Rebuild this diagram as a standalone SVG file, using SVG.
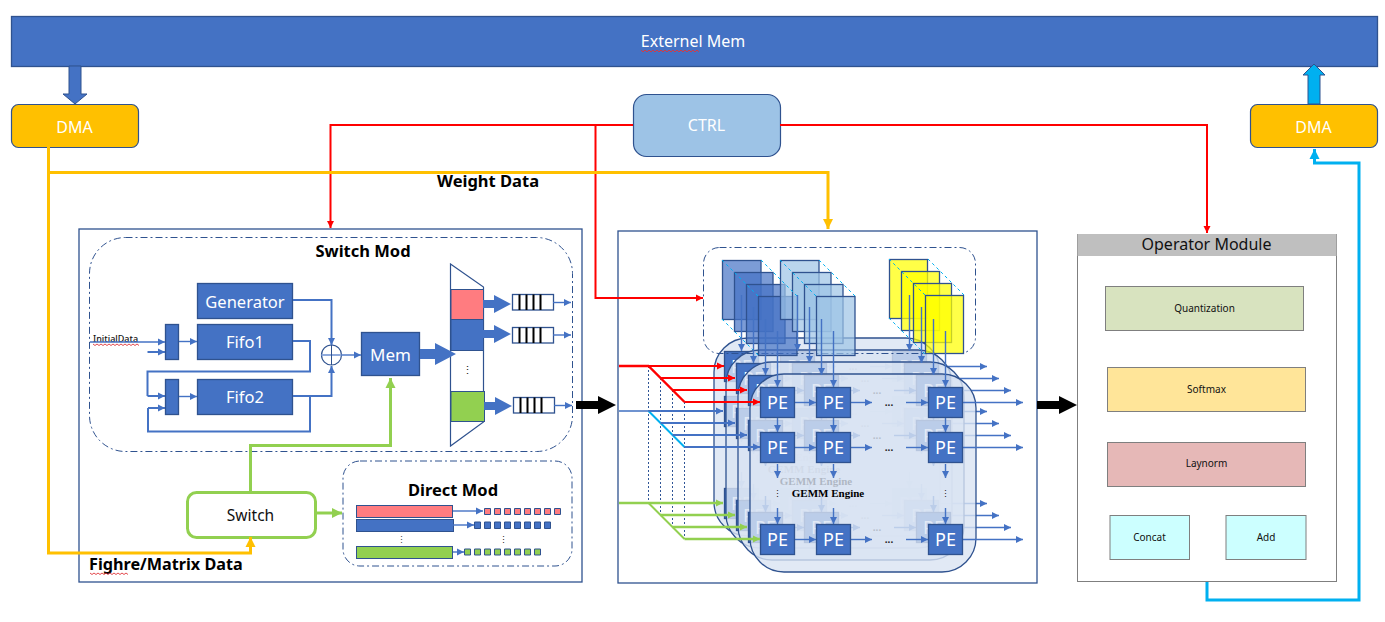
<svg xmlns="http://www.w3.org/2000/svg" xmlns:xlink="http://www.w3.org/1999/xlink" width="1385" height="622" viewBox="0 0 1385 622">
<style>
text{font-family:"Noto Sans","Open Sans","Liberation Sans",sans-serif}
.b{fill:#4472C4;stroke:#2F528F;stroke-width:1.3}
.w{fill:#fff;text-anchor:middle}
.t{fill:#111;text-anchor:middle}
.bold{font-weight:700;fill:#000}
.panel{fill:#fff;stroke:#2F528F;stroke-width:1.3}
.dash{fill:none;stroke:#2F528F;stroke-width:1;stroke-dasharray:7 3 2 3}
.dma{fill:#FFC000;stroke:#2F528F;stroke-width:1.2}
.thin{fill:none;stroke:#4472C4;stroke-width:1.4;marker-end:url(#ab)}
.loop{fill:none;stroke:#4472C4;stroke-width:2}
.loopa{fill:none;stroke:#4472C4;stroke-width:2;marker-end:url(#ab)}
.red{fill:none;stroke:#FF0000;stroke-width:2;marker-end:url(#ar)}
.redl{fill:none;stroke:#FF0000;stroke-width:2.4}
.bl2{fill:none;stroke:#4472C4;stroke-width:2;marker-end:url(#ab)}
.gr{fill:none;stroke:#92D050;stroke-width:2.4;marker-end:url(#ag)}
.yl{fill:none;stroke:#FFC000;stroke-width:3}
.vd{fill:none;stroke:#2F5597;stroke-width:1;stroke-dasharray:2 2}
.st{stroke:#2F528F;stroke-width:1.3}
.diag{fill:none;stroke:#00B0F0;stroke-width:1;stroke-dasharray:3 3}
.wave{fill:none;stroke:#E0363A;stroke-width:.9}
.op{stroke:#7F7F7F;stroke-width:1}
.pe{font-size:18px}
.dots{font-size:10px;fill:#222;text-anchor:middle;font-weight:700}
.gemm{font-family:"Liberation Serif",serif;font-size:11px;font-weight:700;fill:#000;text-anchor:middle}
.q{fill:#fff;stroke:#2F528F;stroke-width:1.3}
</style>
<defs>
<marker id="ab" markerUnits="userSpaceOnUse" markerWidth="8" markerHeight="8" refX="7" refY="4" orient="auto"><path d="M0 .5L7 4L0 7.5Z" fill="#4472C4"/></marker>
<marker id="ar" markerUnits="userSpaceOnUse" markerWidth="8" markerHeight="8" refX="7" refY="4" orient="auto"><path d="M0 .5L7 4L0 7.5Z" fill="#FF0000"/></marker>
<marker id="ag" markerUnits="userSpaceOnUse" markerWidth="8" markerHeight="8" refX="7" refY="4" orient="auto"><path d="M0 .5L7 4L0 7.5Z" fill="#92D050"/></marker>
<marker id="ag2" markerUnits="userSpaceOnUse" markerWidth="12" markerHeight="12" refX="10" refY="6" orient="auto"><path d="M0 1L10 6L0 11Z" fill="#92D050"/></marker>
<marker id="ay" markerUnits="userSpaceOnUse" markerWidth="12" markerHeight="12" refX="10" refY="6" orient="auto"><path d="M0 1L10 6L0 11Z" fill="#FFC000"/></marker>
<marker id="ac" markerUnits="userSpaceOnUse" markerWidth="12" markerHeight="12" refX="10" refY="6" orient="auto"><path d="M0 1L10 6L0 11Z" fill="#00B0F0"/></marker>
<path id="fat" d="M0 -5H15V-11L36 0L15 11V5H0Z" fill="#4472C4"/>
<path id="fat2" d="M0 -4H11V-9L28 0L11 9V4H0Z" fill="#4472C4"/>
<path id="fatk" d="M0 -4H22V-9L40 0L22 9V4H0Z" fill="#000"/>
<g id="queue"><rect class="q" width="41" height="15.500"/><path d="M7 0V15.500M14 0V15.500M21 0V15.500M28 0V15.500" stroke="#000" stroke-width="2"/></g>
<g id="gridlines">
<rect x="750" y="374" width="226" height="198" rx="34" fill="#DAE3F3" fill-opacity=".8" stroke="#2F528F" stroke-width="1.3"/>
</g>
<g id="gridarrows">
<path class="thin" d="M795 402.500H816"/><path class="thin" d="M851 402.500H872"/><path class="thin" d="M906 402.500H928"/><path class="thin" d="M963 402.500H1023"/>
<path class="thin" d="M795 447.500H816"/><path class="thin" d="M851 447.500H872"/><path class="thin" d="M906 447.500H928"/><path class="thin" d="M963 447.500H1023"/>
<path class="thin" d="M795 539.500H816"/><path class="thin" d="M851 539.500H872"/><path class="thin" d="M906 539.500H928"/><path class="thin" d="M963 539.500H1023"/>
<path class="thin" d="M777.500 418V432"/><path class="thin" d="M833.500 418V432"/><path class="thin" d="M945.500 418V432"/>
<path class="thin" d="M777.500 464V478"/><path class="thin" d="M833.500 464V478"/><path class="thin" d="M945.500 464V478"/>
<path class="thin" d="M777.500 508V524"/><path class="thin" d="M833.500 508V524"/><path class="thin" d="M945.500 508V524"/>
</g>
</defs>

<rect width="1385" height="622" fill="#fff"/>

<g id="left-panel"><rect class="panel" x="79" y="229" width="503" height="353"/></g>
<g id="center-panel"><rect class="panel" x="618" y="231" width="419" height="352"/></g>

<g id="external-mem"><rect class="b" x="11.500" y="16.500" width="1366" height="50"/><text class="w" x="693" y="47" font-size="16">Externel Mem</text><path class="wave" d="M641 50l2 2l2-2l2 2l2-2l2 2l2-2l2 2l2-2l2 2l2-2l2 2l2-2l2 2l2-2l2 2l2-2l2 2l2-2l2 2l2-2l2 2l2-2l2 2l2-2l2 2l2-2l2 2l2-2l2 2"/></g>
<g id="dma-left"><rect class="dma" x="11.500" y="104.500" width="127" height="43" rx="7"/><text class="w" x="74.500" y="133" font-size="16">DMA</text></g>
<g id="dma-right"><rect class="dma" x="1250.500" y="104.500" width="127" height="43" rx="7"/><text class="w" x="1313.500" y="133" font-size="16">DMA</text></g>
<g id="ctrl"><rect x="633.500" y="94.500" width="147" height="62" rx="13" fill="#9DC3E6" stroke="#2F528F" stroke-width="1.2"/><text class="w" x="706.500" y="131" font-size="16">CTRL</text></g>

<g id="switch-mod">
<rect class="dash" x="89.500" y="237.500" width="483" height="214" rx="36"/>
<text class="bold" x="363" y="257" font-size="16.500" text-anchor="middle">Switch Mod</text>
</g>
<g id="generator"><rect class="b" x="197.500" y="283.500" width="95" height="35"/><text class="w" x="245" y="307.500" font-size="16.500">Generator</text></g>
<g id="fifo1"><rect class="b" x="197.500" y="324.500" width="95" height="35"/><text class="w" x="245" y="348" font-size="16.500">Fifo1</text></g>
<g id="fifo2"><rect class="b" x="197.500" y="379.500" width="95" height="35"/><text class="w" x="245" y="403" font-size="16.500">Fifo2</text></g>
<g id="mux1"><rect class="b" x="165.500" y="324.500" width="13" height="35"/></g>
<g id="mux2"><rect class="b" x="165.500" y="379.500" width="13" height="35"/></g>
<g id="initial-data"><text x="93" y="342" font-size="9" font-weight="500" fill="#111">InitialData</text><path class="wave" d="M93 344l2 1.500l2-1.500l2 1.500l2-1.500l2 1.500l2-1.500l2 1.500l2-1.500l2 1.500l2-1.500l2 1.500l2-1.500l2 1.500l2-1.500l2 1.500l2-1.500l2 1.500l2-1.500l2 1.500l2-1.500l2 1.500l2-1.500l2 1.500"/></g>
<g id="adder"><circle cx="331.500" cy="355" r="10" fill="#fff" stroke="#2F528F" stroke-width="1.2"/><path d="M321.500 355H341.500" stroke="#8FAADC" stroke-width="2"/><path d="M331.500 345V365" stroke="#2F528F"/></g>
<g id="mem"><rect class="b" x="361.500" y="332.500" width="58" height="43"/><text class="w" x="390.500" y="361" font-size="17">Mem</text></g>
<g id="selector">
<path d="M450.500 264L483.500 287V422L450.500 446Z" fill="#fff" stroke="#2F528F" stroke-width="1.2"/>
<rect x="451" y="289.500" width="32.500" height="30" fill="#FF7C80" stroke="#2F528F"/>
<rect x="451" y="319.500" width="32.500" height="31" fill="#4472C4" stroke="#2F528F"/>
<rect x="451" y="391.500" width="33.500" height="30" fill="#92D050" stroke="#2F528F"/>
<text x="467.500" y="374" font-size="11" fill="#222" text-anchor="middle">⋮</text>
</g>
<g id="queue1"><use href="#queue" x="512.500" y="294.500"/></g>
<g id="queue2"><use href="#queue" x="512.500" y="327.500"/></g>
<g id="queue3"><use href="#queue" x="513.500" y="397.500"/></g>

<g id="direct-mod">
<rect class="dash" x="343" y="461" width="229" height="105" rx="17"/>
<text class="bold" x="453" y="496" font-size="16.500" text-anchor="middle">Direct Mod</text>
<rect x="356.500" y="505.500" width="96" height="12" fill="#FF7C80" stroke="#2F528F"/>
<rect x="356.500" y="519.500" width="97" height="12" fill="#4472C4" stroke="#2F528F"/>
<rect x="356.500" y="546.500" width="96" height="12" fill="#92D050" stroke="#2F528F"/>
<path d="M484.500 508.500h6v6h-6zM494.500 508.500h6v6h-6zM504.500 508.500h6v6h-6zM514.500 508.500h6v6h-6zM524.500 508.500h6v6h-6zM534.500 508.500h6v6h-6zM544.500 508.500h6v6h-6zM554.500 508.500h6v6h-6z" fill="#FF7C80" stroke="#2F528F"/>
<path d="M474.500 522h6v6.500h-6zM484.500 522h6v6.500h-6zM494.500 522h6v6.500h-6zM504.500 522h6v6.500h-6zM514.500 522h6v6.500h-6zM524.500 522h6v6.500h-6zM534.500 522h6v6.500h-6zM544.500 522h6v6.500h-6z" fill="#4472C4" stroke="#2F528F"/>
<path d="M464.500 549h6v6h-6zM474.500 549h6v6h-6zM484.500 549h6v6h-6zM494.500 549h6v6h-6zM504.500 549h6v6h-6zM514.500 549h6v6h-6zM524.500 549h6v6h-6zM534.500 549h6v6h-6z" fill="#92D050" stroke="#2F528F"/>
<text x="401" y="543" font-size="9" fill="#444" text-anchor="middle">⋮</text>
<text x="503" y="543" font-size="9" fill="#222" text-anchor="middle">⋮</text>
</g>
<g id="switch"><rect x="187.500" y="492.500" width="128" height="45" rx="9" fill="#fff" stroke="#92D050" stroke-width="3"/><text class="t" x="250.500" y="521" font-size="15.500">Switch</text></g>

<g id="label-weight"><text class="bold" x="437" y="187" font-size="16.500">Weight Data</text></g>
<g id="label-matrix"><text class="bold" x="89" y="570" font-size="16.200">Fighre/Matrix Data</text><path class="wave" d="M90 573l2 1.500l2-1.500l2 1.500l2-1.500l2 1.500l2-1.500l2 1.500l2-1.500l2 1.500l2-1.500l2 1.500l2-1.500l2 1.500l2-1.500l2 1.500l2-1.500l2 1.500l2-1.500l2 1.500"/></g>

<g id="engine-3" transform="translate(-36 -36)">
<use href="#gridlines"/><use href="#gridarrows"/>
<text class="gemm" x="828" y="497">GEMM Engine</text>
<text class="dots" x="889" y="406">...</text><text class="dots" x="889" y="451">...</text><text class="dots" x="889" y="543">...</text>
<g id="pe-3-1"><rect class="b" x="760.500" y="387.500" width="34" height="30"/><text class="w pe" x="777.500" y="409">PE</text></g>
<g id="pe-3-2"><rect class="b" x="816.500" y="387.500" width="34" height="30"/><text class="w pe" x="833.500" y="409">PE</text></g>
<g id="pe-3-3"><rect class="b" x="928.500" y="387.500" width="34" height="30"/><text class="w pe" x="945.500" y="409">PE</text></g>
<g id="pe-3-4"><rect class="b" x="760.500" y="432.500" width="34" height="30"/><text class="w pe" x="777.500" y="454">PE</text></g>
<g id="pe-3-5"><rect class="b" x="816.500" y="432.500" width="34" height="30"/><text class="w pe" x="833.500" y="454">PE</text></g>
<g id="pe-3-6"><rect class="b" x="928.500" y="432.500" width="34" height="30"/><text class="w pe" x="945.500" y="454">PE</text></g>
<g id="pe-3-7"><rect class="b" x="760.500" y="524.500" width="34" height="30"/><text class="w pe" x="777.500" y="546">PE</text></g>
<g id="pe-3-8"><rect class="b" x="816.500" y="524.500" width="34" height="30"/><text class="w pe" x="833.500" y="546">PE</text></g>
<g id="pe-3-9"><rect class="b" x="928.500" y="524.500" width="34" height="30"/><text class="w pe" x="945.500" y="546">PE</text></g>
</g>
<g id="engine-2" transform="translate(-24 -24)">
<use href="#gridlines"/><use href="#gridarrows"/>
<text class="gemm" x="828" y="497">GEMM Engine</text>
<text class="dots" x="889" y="406">...</text><text class="dots" x="889" y="451">...</text><text class="dots" x="889" y="543">...</text>
<g id="pe-2-1"><rect class="b" x="760.500" y="387.500" width="34" height="30"/><text class="w pe" x="777.500" y="409">PE</text></g>
<g id="pe-2-2"><rect class="b" x="816.500" y="387.500" width="34" height="30"/><text class="w pe" x="833.500" y="409">PE</text></g>
<g id="pe-2-3"><rect class="b" x="928.500" y="387.500" width="34" height="30"/><text class="w pe" x="945.500" y="409">PE</text></g>
<g id="pe-2-4"><rect class="b" x="760.500" y="432.500" width="34" height="30"/><text class="w pe" x="777.500" y="454">PE</text></g>
<g id="pe-2-5"><rect class="b" x="816.500" y="432.500" width="34" height="30"/><text class="w pe" x="833.500" y="454">PE</text></g>
<g id="pe-2-6"><rect class="b" x="928.500" y="432.500" width="34" height="30"/><text class="w pe" x="945.500" y="454">PE</text></g>
<g id="pe-2-7"><rect class="b" x="760.500" y="524.500" width="34" height="30"/><text class="w pe" x="777.500" y="546">PE</text></g>
<g id="pe-2-8"><rect class="b" x="816.500" y="524.500" width="34" height="30"/><text class="w pe" x="833.500" y="546">PE</text></g>
<g id="pe-2-9"><rect class="b" x="928.500" y="524.500" width="34" height="30"/><text class="w pe" x="945.500" y="546">PE</text></g>
</g>
<g id="engine-1" transform="translate(-12 -12)">
<use href="#gridlines"/><use href="#gridarrows"/>
<text class="gemm" x="828" y="497">GEMM Engine</text>
<text class="dots" x="889" y="406">...</text><text class="dots" x="889" y="451">...</text><text class="dots" x="889" y="543">...</text>
<g id="pe-1-1"><rect class="b" x="760.500" y="387.500" width="34" height="30"/><text class="w pe" x="777.500" y="409">PE</text></g>
<g id="pe-1-2"><rect class="b" x="816.500" y="387.500" width="34" height="30"/><text class="w pe" x="833.500" y="409">PE</text></g>
<g id="pe-1-3"><rect class="b" x="928.500" y="387.500" width="34" height="30"/><text class="w pe" x="945.500" y="409">PE</text></g>
<g id="pe-1-4"><rect class="b" x="760.500" y="432.500" width="34" height="30"/><text class="w pe" x="777.500" y="454">PE</text></g>
<g id="pe-1-5"><rect class="b" x="816.500" y="432.500" width="34" height="30"/><text class="w pe" x="833.500" y="454">PE</text></g>
<g id="pe-1-6"><rect class="b" x="928.500" y="432.500" width="34" height="30"/><text class="w pe" x="945.500" y="454">PE</text></g>
<g id="pe-1-7"><rect class="b" x="760.500" y="524.500" width="34" height="30"/><text class="w pe" x="777.500" y="546">PE</text></g>
<g id="pe-1-8"><rect class="b" x="816.500" y="524.500" width="34" height="30"/><text class="w pe" x="833.500" y="546">PE</text></g>
<g id="pe-1-9"><rect class="b" x="928.500" y="524.500" width="34" height="30"/><text class="w pe" x="945.500" y="546">PE</text></g>
</g>
<g id="engine-0">
<use href="#gridlines"/><use href="#gridarrows"/>
<text class="gemm" x="828" y="497">GEMM Engine</text>
<text class="dots" x="889" y="406">...</text><text class="dots" x="889" y="451">...</text><text class="dots" x="889" y="543">...</text>
<text x="777.500" y="497" font-size="9" fill="#222" text-anchor="middle">⋮</text><text x="945.500" y="497" font-size="9" fill="#222" text-anchor="middle">⋮</text>
<g id="pe-0-1"><rect class="b" x="760.500" y="387.500" width="34" height="30"/><text class="w pe" x="777.500" y="409">PE</text></g>
<g id="pe-0-2"><rect class="b" x="816.500" y="387.500" width="34" height="30"/><text class="w pe" x="833.500" y="409">PE</text></g>
<g id="pe-0-3"><rect class="b" x="928.500" y="387.500" width="34" height="30"/><text class="w pe" x="945.500" y="409">PE</text></g>
<g id="pe-0-4"><rect class="b" x="760.500" y="432.500" width="34" height="30"/><text class="w pe" x="777.500" y="454">PE</text></g>
<g id="pe-0-5"><rect class="b" x="816.500" y="432.500" width="34" height="30"/><text class="w pe" x="833.500" y="454">PE</text></g>
<g id="pe-0-6"><rect class="b" x="928.500" y="432.500" width="34" height="30"/><text class="w pe" x="945.500" y="454">PE</text></g>
<g id="pe-0-7"><rect class="b" x="760.500" y="524.500" width="34" height="30"/><text class="w pe" x="777.500" y="546">PE</text></g>
<g id="pe-0-8"><rect class="b" x="816.500" y="524.500" width="34" height="30"/><text class="w pe" x="833.500" y="546">PE</text></g>
<g id="pe-0-9"><rect class="b" x="928.500" y="524.500" width="34" height="30"/><text class="w pe" x="945.500" y="546">PE</text></g>
</g>

<g id="buffers">
<rect class="dash" x="703.500" y="247.500" width="272" height="106" rx="16"/>
<g fill="#4472C4" fill-opacity=".7">
<rect class="st" x="722.500" y="260.500" width="38.500" height="59"/><rect class="st" x="734.500" y="272.500" width="38.500" height="59"/><rect class="st" x="746.500" y="284.500" width="38.500" height="59"/><rect class="st" x="758.500" y="296.500" width="38.500" height="59"/>
</g>
<g fill="#9DC3E6" fill-opacity=".7">
<rect class="st" x="780.500" y="260.500" width="38.500" height="59"/><rect class="st" x="792.500" y="272.500" width="38.500" height="59"/><rect class="st" x="804.500" y="284.500" width="38.500" height="59"/><rect class="st" x="816.500" y="296.500" width="38.500" height="59"/>
</g>
<g fill="#FFFF00" fill-opacity=".72">
<rect class="st" x="889.500" y="259.500" width="38" height="59"/><rect class="st" x="901.500" y="271.500" width="38" height="59"/><rect class="st" x="913.500" y="283.500" width="38" height="59"/><rect class="st" x="925.500" y="295.500" width="38" height="58"/>
</g>
<path class="diag" d="M722 260L758 296M761 260L797 296M722 319L758 355M780 260L816 296M819 260L855 296M889 259L925 295M928 259L964 295M889 318L925 354"/>
</g>

<g id="operator-module">
<rect x="1077.500" y="234.500" width="259" height="347" fill="#fff" stroke="#7F7F7F"/>
<rect x="1077.500" y="234" width="259" height="22" fill="#BFBFBF"/>
<text class="t" x="1206.500" y="250" font-size="16">Operator Module</text>
</g>
<g id="quantization"><rect class="op" x="1105.500" y="286.500" width="198" height="44" fill="#D8E3BF"/><text class="t" x="1204.500" y="311.500" font-size="10">Quantization</text></g>
<g id="softmax"><rect class="op" x="1107.500" y="367.500" width="198" height="44" fill="#FFE599"/><text class="t" x="1206.500" y="392.500" font-size="10">Softmax</text></g>
<g id="laynorm"><rect class="op" x="1107.500" y="442.500" width="198" height="44" fill="#E6B8B7"/><text class="t" x="1206.500" y="467" font-size="10">Laynorm</text></g>
<g id="concat"><rect class="op" x="1110" y="515.500" width="79.500" height="44" fill="#CCFFFF"/><text class="t" x="1149.500" y="540.500" font-size="10">Concat</text></g>
<g id="add"><rect class="op" x="1226" y="515.500" width="80" height="44" fill="#CCFFFF"/><text class="t" x="1266" y="540.500" font-size="10">Add</text></g>

<g id="connectors">
<path d="M69 66H81V94H87L75 104L63 94H69Z" fill="#4472C4" stroke="#2F528F"/>
<path d="M1308 104V75H1303L1314 64L1325 75H1320V104Z" fill="#00B0F0" stroke="#2F528F"/>
<path class="red" d="M633 125H330.500V228"/>
<path class="red" d="M595.500 125V298H703"/>
<path class="red" d="M780 125H1207V233"/>
<path class="yl" d="M48.500 147V553H250.500V537" marker-end="url(#ay)"/>
<path class="yl" d="M48.500 172.500H828V229" marker-end="url(#ay)"/>
<path d="M1207 582V600H1359V163H1314.500V149" fill="none" stroke="#00B0F0" stroke-width="3" marker-end="url(#ac)"/>
<path d="M250.500 492V445.500H390.500V378" fill="none" stroke="#92D050" stroke-width="3" marker-end="url(#ag2)"/>
<path d="M315 513H342" fill="none" stroke="#92D050" stroke-width="3" marker-end="url(#ag2)"/>
<use href="#fatk" x="576" y="405"/>
<use href="#fatk" x="1037" y="405"/>
<use href="#fat" x="420" y="354"/>
<use href="#fat2" x="483" y="304"/><use href="#fat2" x="483" y="334"/><use href="#fat2" x="484" y="406"/>
<path class="thin" d="M553 302.500H571"/><path class="thin" d="M553 335H571"/><path class="thin" d="M554 405.500H572"/>
<path class="thin" d="M90 342H165"/>
<path class="thin" d="M179 341.500H197"/><path class="thin" d="M179 396.500H197"/>
<path class="loop" d="M293 341H310V371.500H147.500V396"/>
<path class="loopa" d="M147.500 352H165"/>
<path class="loopa" d="M147.500 396H165"/>
<path class="loopa" d="M293 396H331.500V366"/>
<path class="loop" d="M310 396V431.500H148V408"/>
<path class="loopa" d="M148 408H165"/>
<path class="loopa" d="M293 300H331.500V345"/>
<path class="thin" d="M341.500 355H361"/>
<path class="thin" d="M453 511H483"/><path class="thin" d="M453 525H474"/><path class="thin" d="M453 552H464"/>
<path class="vd" d="M648.500 366V503M660.500 378V515M672.500 390V527M684.500 402V539"/>
<path class="redl" d="M619 366H648.500L684.500 402"/>
<path class="red" d="M648.500 366H724"/><path class="red" d="M660.500 378H735"/><path class="red" d="M672.500 390H747"/><path class="red" d="M684.500 402H760"/>
<path d="M619 411H648.500" fill="none" stroke="#6F93D0" stroke-width="2"/>
<path d="M648.500 411L684.500 447" fill="none" stroke="#00B0F0" stroke-width="2"/>
<path class="bl2" d="M648.500 411H723"/><path class="bl2" d="M660.500 423H735"/><path class="bl2" d="M672.500 435H747"/><path class="bl2" d="M684.500 447H760"/>
<path class="gr" d="M619 503H723"/><path class="gr" d="M660.500 515H735"/><path class="gr" d="M672.500 527H747"/><path class="gr" d="M684.500 539H760"/>
<path d="M648.500 503L684.500 539" fill="none" stroke="#92D050" stroke-width="2"/>
<path class="thin" d="M741.500 295V351"/><path class="thin" d="M753.500 307V363"/><path class="thin" d="M765.500 319V375"/><path class="thin" d="M777.500 331V387"/>
<path class="thin" d="M797.500 295V351"/><path class="thin" d="M809.500 307V363"/><path class="thin" d="M821.500 319V375"/><path class="thin" d="M833.500 331V387"/>
<path class="thin" d="M909.500 295V351"/><path class="thin" d="M921.500 307V363"/><path class="thin" d="M933.500 319V375"/><path class="thin" d="M945.500 331V387"/>
</g>
</svg>
